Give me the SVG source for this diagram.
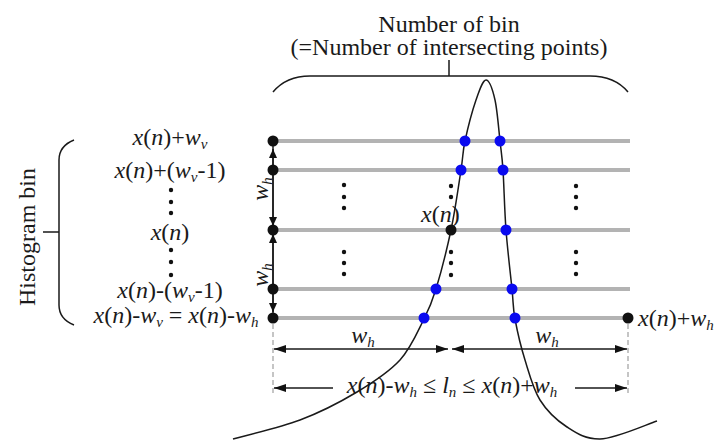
<svg xmlns="http://www.w3.org/2000/svg" width="717" height="440" viewBox="0 0 717 440">
<style>
text{font-family:"Liberation Serif","Times New Roman",serif;font-size:24px;fill:#1a1a1a}
.i{font-style:italic}
.s{font-style:italic;font-size:15px}
.grid{stroke:#b3b3b3;stroke-width:4;fill:none}
.ln{stroke:#1a1a1a;stroke-width:1.5;fill:none}
.dash{stroke:#b3b3b3;stroke-width:1.5;stroke-dasharray:5 3;fill:none}
.bd{fill:#111}
.bl{fill:#0a0af0}
.dt{fill:#111}
</style>
<defs>
<marker id="ah" viewBox="0 0 12 8" refX="12" refY="4" markerWidth="12" markerHeight="8" markerUnits="userSpaceOnUse" orient="auto-start-reverse"><path d="M0,0 L12,4 L0,8 z" fill="#111"/></marker>
<marker id="av" viewBox="0 0 9 8" refX="9" refY="4" markerWidth="9" markerHeight="8" markerUnits="userSpaceOnUse" orient="auto-start-reverse"><path d="M0,0 L9,4 L0,8 z" fill="#111"/></marker>
</defs>
<rect width="717" height="440" fill="#fff"/>

<g id="title">
<text x="449" y="32" text-anchor="middle">Number of bin</text>
<text x="449" y="55" text-anchor="middle">(=Number of intersecting points)</text>
<path class="ln" d="M273,92 C283,80 295,76 310,76 L590,76 C605,76 618,80 628,92 M449,60 L449,76"/>
</g>

<g id="histogram-bin">
<text transform="translate(35,237) rotate(-90)" text-anchor="middle" font-size="25">Histogram bin</text>
<path class="ln" d="M74,140 C64,144 59,150 59,160 L59,305 C59,315 64,321 74,325 M43,232 L59,232"/>
</g>

<g id="bin-labels">
<text x="170" y="145" text-anchor="middle"><tspan class="i">x</tspan>(<tspan class="i">n</tspan>)+<tspan class="i">w</tspan><tspan class="s" dy="4">v</tspan></text>
<text x="170" y="178" text-anchor="middle"><tspan class="i">x</tspan>(<tspan class="i">n</tspan>)+(<tspan class="i">w</tspan><tspan class="s" dy="4">v</tspan><tspan dy="-4">-1)</tspan></text>
<text x="170" y="240" text-anchor="middle"><tspan class="i">x</tspan>(<tspan class="i">n</tspan>)</text>
<text x="170" y="298" text-anchor="middle"><tspan class="i">x</tspan>(<tspan class="i">n</tspan>)-(<tspan class="i">w</tspan><tspan class="s" dy="4">v</tspan><tspan dy="-4">-1)</tspan></text>
<text x="176" y="323" text-anchor="middle"><tspan class="i">x</tspan>(<tspan class="i">n</tspan>)-<tspan class="i">w</tspan><tspan class="s" dy="4">v</tspan><tspan dy="-4"> = </tspan><tspan class="i">x</tspan>(<tspan class="i">n</tspan>)-<tspan class="i">w</tspan><tspan class="s" dy="4">h</tspan></text>
<g class="dt">
<circle cx="171" cy="190" r="2.2"/><circle cx="171" cy="202" r="2.2"/><circle cx="171" cy="213" r="2.2"/>
<circle cx="171" cy="250" r="2.2"/><circle cx="171" cy="262" r="2.2"/><circle cx="171" cy="275" r="2.2"/>
</g>
</g>

<g id="bins">
<path class="grid" d="M273,141 H630 M273,170 H630 M273,230 H630 M273,289 H630 M273,318 H630"/>
<g class="dt">
<circle cx="344" cy="185" r="2.2"/><circle cx="344" cy="197" r="2.2"/><circle cx="344" cy="208" r="2.2"/>
<circle cx="344" cy="252" r="2.2"/><circle cx="344" cy="263" r="2.2"/><circle cx="344" cy="274" r="2.2"/>
<circle cx="451" cy="186" r="2.2"/><circle cx="451" cy="197" r="2.2"/>
<circle cx="451" cy="252" r="2.2"/><circle cx="451" cy="263" r="2.2"/><circle cx="451" cy="275" r="2.2"/>
<circle cx="576" cy="186" r="2.2"/><circle cx="576" cy="197" r="2.2"/><circle cx="576" cy="208" r="2.2"/>
<circle cx="576" cy="252" r="2.2"/><circle cx="576" cy="263" r="2.2"/><circle cx="576" cy="274" r="2.2"/>
</g>
</g>

<g id="connectors">
<line class="ln" x1="273" y1="141" x2="273" y2="318"/>
<line class="ln" x1="273" y1="149" x2="273" y2="226" marker-start="url(#av)" marker-end="url(#av)"/>
<line class="ln" x1="273" y1="234" x2="273" y2="312" marker-start="url(#av)" marker-end="url(#av)"/>
<line class="dash" x1="273" y1="324" x2="273" y2="395"/>
<line class="dash" x1="628" y1="324" x2="628" y2="395"/>
<line class="ln" x1="274" y1="349" x2="448" y2="349" marker-start="url(#ah)" marker-end="url(#ah)"/>
<line class="ln" x1="452" y1="349" x2="627" y2="349" marker-start="url(#ah)" marker-end="url(#ah)"/>
<line class="ln" x1="333" y1="388" x2="274" y2="388" marker-end="url(#ah)"/>
<line class="ln" x1="575" y1="388" x2="627" y2="388" marker-end="url(#ah)"/>
</g>

<g id="curve">
<path class="ln" d="M233,439 C244.2,435.8 279.3,427.8 300,420 C320.7,412.2 340.3,402 357,392 C373.7,382 388.8,372.2 400,360 C411.2,347.8 418,330.8 424,319 C430,307.2 431.5,303.8 436,289 C440.5,274.2 446.8,249.8 451,230 C455.2,210.2 458.7,184.8 461,170 C463.3,155.2 462.5,152.7 465,141 C467.5,129.3 472.5,110.2 476,100 C479.5,89.8 482.8,80 486,80 C489.2,80 492.7,89.8 495,100 C497.3,110.2 498.7,129.3 500,141 C501.3,152.7 502,155.2 503,170 C504,184.8 504.5,210.2 506,230 C507.5,249.8 510.5,274.2 512,289 C513.5,303.8 512.8,307.2 515,319 C517.2,330.8 520.8,346.5 525,360 C529.2,373.5 533,388.8 540,400 C547,411.2 557,420.5 567,427 C577,433.5 585,439.2 600,439 C615,438.8 647.5,424 657,421"/>
</g>

<g id="points">
<circle class="bd" cx="273" cy="141" r="5.5"/>
<circle class="bd" cx="273" cy="170" r="5.5"/>
<circle class="bd" cx="273" cy="230" r="5.5"/>
<circle class="bd" cx="273" cy="289" r="5.5"/>
<circle class="bd" cx="273" cy="318" r="5.5"/>
<circle class="bd" cx="451" cy="230" r="5.5"/>
<circle class="bd" cx="628" cy="318" r="5.5"/>
<circle class="bl" cx="465" cy="141" r="5.5"/>
<circle class="bl" cx="500" cy="141" r="5.5"/>
<circle class="bl" cx="461" cy="170" r="5.5"/>
<circle class="bl" cx="503" cy="170" r="5.5"/>
<circle class="bl" cx="506" cy="230" r="5.5"/>
<circle class="bl" cx="436" cy="289" r="5.5"/>
<circle class="bl" cx="512" cy="289" r="5.5"/>
<circle class="bl" cx="424" cy="318" r="5.5"/>
<circle class="bl" cx="515" cy="318" r="5.5"/>
</g>

<g id="labels">
<text x="421" y="222"><tspan class="i">x</tspan>(<tspan class="i">n</tspan>)</text>
<text x="638" y="326"><tspan class="i">x</tspan>(<tspan class="i">n</tspan>)+<tspan class="i">w</tspan><tspan class="s" dy="4">h</tspan></text>
<text transform="translate(268,189) rotate(-90)" text-anchor="middle"><tspan class="i">w</tspan><tspan class="s" dy="4">h</tspan></text>
<text transform="translate(268,275) rotate(-90)" text-anchor="middle"><tspan class="i">w</tspan><tspan class="s" dy="4">h</tspan></text>
<text x="363" y="343" text-anchor="middle"><tspan class="i">w</tspan><tspan class="s" dy="4">h</tspan></text>
<text x="547" y="343" text-anchor="middle"><tspan class="i">w</tspan><tspan class="s" dy="4">h</tspan></text>
<text x="452" y="393" text-anchor="middle"><tspan class="i">x</tspan>(<tspan class="i">n</tspan>)-<tspan class="i">w</tspan><tspan class="s" dy="4">h</tspan><tspan dy="-4"> ≤  </tspan><tspan class="i">l</tspan><tspan class="s" dy="4">n</tspan><tspan dy="-4"> ≤ </tspan><tspan class="i">x</tspan>(<tspan class="i">n</tspan>)+<tspan class="i">w</tspan><tspan class="s" dy="4">h</tspan></text>
</g>
</svg>
